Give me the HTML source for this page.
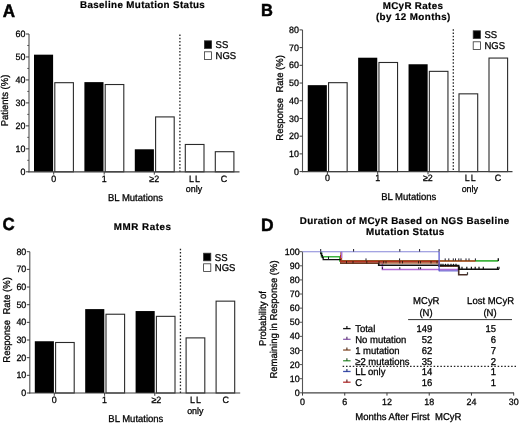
<!DOCTYPE html>
<html><head><meta charset="utf-8"><style>
html,body{margin:0;padding:0;background:#fff;width:520px;height:424px;overflow:hidden}
svg{display:block;filter:blur(0.3px);font-family:"Liberation Sans", sans-serif;will-change:transform;opacity:0.999;text-rendering:geometricPrecision}
text{stroke:#000;stroke-width:0.28px;paint-order:stroke}
text[font-weight=bold]{stroke-width:0.2px}
text.pl{stroke:#000;fill:#000;stroke-width:0.5px}
</style></head><body>
<svg width="520" height="424" viewBox="0 0 520 424">
<rect width="520" height="424" fill="#fff"/>
<text x="2.7" y="16.8" font-size="18.0" text-anchor="start" font-weight="bold" fill="#000" textLength="12.3" lengthAdjust="spacingAndGlyphs" class="pl">A</text>
<text x="80" y="8.3" font-size="9.8" text-anchor="start" font-weight="bold" fill="#000" textLength="124.8" lengthAdjust="spacing">Baseline Mutation Status</text>
<rect x="34.0" y="54.67" width="19.1" height="117.13" fill="#000"/>
<rect x="54.8" y="82.69" width="18.6" height="89.11" fill="#fff" stroke="#2a2a2a" stroke-width="1.1"/>
<rect x="84.4" y="82.12" width="19.1" height="89.68" fill="#000"/>
<rect x="105.2" y="84.53" width="18.6" height="87.27" fill="#fff" stroke="#2a2a2a" stroke-width="1.1"/>
<rect x="134.8" y="149.29" width="19.1" height="22.51" fill="#000"/>
<rect x="155.60000000000002" y="116.91" width="18.6" height="54.89" fill="#fff" stroke="#2a2a2a" stroke-width="1.1"/>
<rect x="185.3" y="144.47" width="18.7" height="27.33" fill="#fff" stroke="#2a2a2a" stroke-width="1.1"/>
<rect x="215.3" y="151.7" width="18.6" height="20.1" fill="#fff" stroke="#2a2a2a" stroke-width="1.1"/>
<line x1="29" y1="34.0" x2="29" y2="172.3" stroke="#505050" stroke-width="1.1"/>
<line x1="28.4" y1="171.8" x2="239.5" y2="171.8" stroke="#404040" stroke-width="1.2"/>
<line x1="26" y1="171.8" x2="29" y2="171.8" stroke="#3a3a3a" stroke-width="1"/>
<text transform="translate(25.5,174.9) scale(0.96154,1)" font-size="9.256" text-anchor="end" font-weight="normal" fill="#000">0</text>
<line x1="26" y1="148.83333333333334" x2="29" y2="148.83333333333334" stroke="#3a3a3a" stroke-width="1"/>
<text transform="translate(25.5,151.93) scale(0.96154,1)" font-size="9.256" text-anchor="end" font-weight="normal" fill="#000">10</text>
<line x1="26" y1="125.86666666666667" x2="29" y2="125.86666666666667" stroke="#3a3a3a" stroke-width="1"/>
<text transform="translate(25.5,128.97) scale(0.96154,1)" font-size="9.256" text-anchor="end" font-weight="normal" fill="#000">20</text>
<line x1="26" y1="102.9" x2="29" y2="102.9" stroke="#3a3a3a" stroke-width="1"/>
<text transform="translate(25.5,106.0) scale(0.96154,1)" font-size="9.256" text-anchor="end" font-weight="normal" fill="#000">30</text>
<line x1="26" y1="79.93333333333334" x2="29" y2="79.93333333333334" stroke="#3a3a3a" stroke-width="1"/>
<text transform="translate(25.5,83.03) scale(0.96154,1)" font-size="9.256" text-anchor="end" font-weight="normal" fill="#000">40</text>
<line x1="26" y1="56.96666666666667" x2="29" y2="56.96666666666667" stroke="#3a3a3a" stroke-width="1"/>
<text transform="translate(25.5,60.07) scale(0.96154,1)" font-size="9.256" text-anchor="end" font-weight="normal" fill="#000">50</text>
<line x1="26" y1="34.0" x2="29" y2="34.0" stroke="#3a3a3a" stroke-width="1"/>
<text transform="translate(25.5,37.1) scale(0.96154,1)" font-size="9.256" text-anchor="end" font-weight="normal" fill="#000">60</text>
<line x1="27.2" y1="160.31666666666666" x2="29" y2="160.31666666666666" stroke="#3a3a3a" stroke-width="0.8"/>
<line x1="27.2" y1="137.35000000000002" x2="29" y2="137.35000000000002" stroke="#3a3a3a" stroke-width="0.8"/>
<line x1="27.2" y1="114.38333333333334" x2="29" y2="114.38333333333334" stroke="#3a3a3a" stroke-width="0.8"/>
<line x1="27.2" y1="91.41666666666667" x2="29" y2="91.41666666666667" stroke="#3a3a3a" stroke-width="0.8"/>
<line x1="27.2" y1="68.45" x2="29" y2="68.45" stroke="#3a3a3a" stroke-width="0.8"/>
<line x1="27.2" y1="45.483333333333334" x2="29" y2="45.483333333333334" stroke="#3a3a3a" stroke-width="0.8"/>
<line x1="179.9" y1="34.45" x2="179.9" y2="171.8" stroke="#222" stroke-width="1.3" stroke-dasharray="1.5,1.82"/>
<rect x="204.4" y="40.8" width="7.2" height="7.6" fill="#000" stroke="#333" stroke-width="0.8"/>
<rect x="204.4" y="51.8" width="7.2" height="7.6" fill="#fff" stroke="#333" stroke-width="0.8"/>
<text transform="translate(215.6,48.099999999999994) scale(0.96154,1)" font-size="9.88" text-anchor="start" font-weight="normal" fill="#000">SS</text>
<text transform="translate(215.6,59.099999999999994) scale(0.96154,1)" font-size="9.88" text-anchor="start" font-weight="normal" fill="#000">NGS</text>
<text transform="translate(53.7,181.6) scale(0.96154,1)" font-size="9.256" text-anchor="middle" font-weight="normal" fill="#000">0</text>
<text transform="translate(104.2,181.6) scale(0.96154,1)" font-size="9.256" text-anchor="middle" font-weight="normal" fill="#000">1</text>
<text transform="translate(154.2,181.6) scale(0.96154,1)" font-size="9.256" text-anchor="middle" font-weight="normal" fill="#000">&#8805;2</text>
<text transform="translate(224,181.6) scale(0.96154,1)" font-size="9.256" text-anchor="middle" font-weight="normal" fill="#000">C</text>
<text transform="translate(194.9,181.6) scale(0.96154,1)" font-size="9.256" text-anchor="middle" font-weight="normal" fill="#000" letter-spacing="1">LL</text>
<text transform="translate(194,192.4) scale(0.96154,1)" font-size="9.256" text-anchor="middle" font-weight="normal" fill="#000">only</text>
<line x1="53.7" y1="171.8" x2="53.7" y2="174.6" stroke="#3a3a3a" stroke-width="1"/>
<line x1="104.2" y1="171.8" x2="104.2" y2="174.6" stroke="#3a3a3a" stroke-width="1"/>
<line x1="154.3" y1="171.8" x2="154.3" y2="174.6" stroke="#3a3a3a" stroke-width="1"/>
<text transform="translate(108,200.8) scale(0.96154,1)" font-size="9.88" text-anchor="start" font-weight="normal" fill="#000">BL Mutations</text>
<text transform="translate(7.8,100.5) rotate(-90) scale(0.96154,1)" x="0" y="0" font-size="9.88" text-anchor="middle" fill="#000">Patients (%)</text>
<text x="261.1" y="16.0" font-size="17.3" text-anchor="start" font-weight="bold" fill="#000" textLength="11.9" lengthAdjust="spacingAndGlyphs" class="pl">B</text>
<text x="412.8" y="8.9" font-size="9.8" text-anchor="middle" font-weight="bold" fill="#000" textLength="60.2" lengthAdjust="spacing">MCyR Rates</text>
<text x="413.1" y="19.7" font-size="9.8" text-anchor="middle" font-weight="bold" fill="#000" textLength="74.4" lengthAdjust="spacing">(by 12 Months)</text>
<rect x="307.75" y="85.16" width="19.1" height="86.44" fill="#000"/>
<rect x="328.55" y="82.68" width="18.6" height="88.92" fill="#fff" stroke="#2a2a2a" stroke-width="1.1"/>
<rect x="358.15" y="57.71" width="19.1" height="113.89" fill="#000"/>
<rect x="378.95" y="62.49" width="18.6" height="109.11" fill="#fff" stroke="#2a2a2a" stroke-width="1.1"/>
<rect x="408.55" y="64.26" width="19.1" height="107.34" fill="#000"/>
<rect x="429.35" y="71.35" width="18.6" height="100.25" fill="#fff" stroke="#2a2a2a" stroke-width="1.1"/>
<rect x="459.0" y="93.84" width="18.7" height="77.76" fill="#fff" stroke="#2a2a2a" stroke-width="1.1"/>
<rect x="489.0" y="58.06" width="18.6" height="113.54" fill="#fff" stroke="#2a2a2a" stroke-width="1.1"/>
<line x1="302.5" y1="29.900000000000006" x2="302.5" y2="172.1" stroke="#505050" stroke-width="1.1"/>
<line x1="301.9" y1="171.6" x2="512.5" y2="171.6" stroke="#404040" stroke-width="1.2"/>
<line x1="299.5" y1="171.6" x2="302.5" y2="171.6" stroke="#3a3a3a" stroke-width="1"/>
<text transform="translate(299.0,174.7) scale(0.96154,1)" font-size="9.256" text-anchor="end" font-weight="normal" fill="#000">0</text>
<line x1="299.5" y1="153.8875" x2="302.5" y2="153.8875" stroke="#3a3a3a" stroke-width="1"/>
<text transform="translate(299.0,156.99) scale(0.96154,1)" font-size="9.256" text-anchor="end" font-weight="normal" fill="#000">10</text>
<line x1="299.5" y1="136.175" x2="302.5" y2="136.175" stroke="#3a3a3a" stroke-width="1"/>
<text transform="translate(299.0,139.28) scale(0.96154,1)" font-size="9.256" text-anchor="end" font-weight="normal" fill="#000">20</text>
<line x1="299.5" y1="118.4625" x2="302.5" y2="118.4625" stroke="#3a3a3a" stroke-width="1"/>
<text transform="translate(299.0,121.56) scale(0.96154,1)" font-size="9.256" text-anchor="end" font-weight="normal" fill="#000">30</text>
<line x1="299.5" y1="100.75" x2="302.5" y2="100.75" stroke="#3a3a3a" stroke-width="1"/>
<text transform="translate(299.0,103.85) scale(0.96154,1)" font-size="9.256" text-anchor="end" font-weight="normal" fill="#000">40</text>
<line x1="299.5" y1="83.03750000000001" x2="302.5" y2="83.03750000000001" stroke="#3a3a3a" stroke-width="1"/>
<text transform="translate(299.0,86.14) scale(0.96154,1)" font-size="9.256" text-anchor="end" font-weight="normal" fill="#000">50</text>
<line x1="299.5" y1="65.325" x2="302.5" y2="65.325" stroke="#3a3a3a" stroke-width="1"/>
<text transform="translate(299.0,68.42) scale(0.96154,1)" font-size="9.256" text-anchor="end" font-weight="normal" fill="#000">60</text>
<line x1="299.5" y1="47.61250000000001" x2="302.5" y2="47.61250000000001" stroke="#3a3a3a" stroke-width="1"/>
<text transform="translate(299.0,50.71) scale(0.96154,1)" font-size="9.256" text-anchor="end" font-weight="normal" fill="#000">70</text>
<line x1="299.5" y1="29.900000000000006" x2="302.5" y2="29.900000000000006" stroke="#3a3a3a" stroke-width="1"/>
<text transform="translate(299.0,33.0) scale(0.96154,1)" font-size="9.256" text-anchor="end" font-weight="normal" fill="#000">80</text>
<line x1="453.3" y1="29.15" x2="453.3" y2="171.6" stroke="#222" stroke-width="1.3" stroke-dasharray="1.5,1.82"/>
<rect x="473.2" y="30.8" width="7.2" height="7.6" fill="#000" stroke="#333" stroke-width="0.8"/>
<rect x="473.2" y="41.8" width="7.2" height="7.6" fill="#fff" stroke="#333" stroke-width="0.8"/>
<text transform="translate(484.4,38.1) scale(0.96154,1)" font-size="9.88" text-anchor="start" font-weight="normal" fill="#000">SS</text>
<text transform="translate(484.4,49.099999999999994) scale(0.96154,1)" font-size="9.88" text-anchor="start" font-weight="normal" fill="#000">NGS</text>
<text transform="translate(327.5,180.8) scale(0.96154,1)" font-size="9.256" text-anchor="middle" font-weight="normal" fill="#000">0</text>
<text transform="translate(377.7,180.8) scale(0.96154,1)" font-size="9.256" text-anchor="middle" font-weight="normal" fill="#000">1</text>
<text transform="translate(427.8,180.8) scale(0.96154,1)" font-size="9.256" text-anchor="middle" font-weight="normal" fill="#000">&#8805;2</text>
<text transform="translate(498,180.8) scale(0.96154,1)" font-size="9.256" text-anchor="middle" font-weight="normal" fill="#000">C</text>
<text transform="translate(470.7,180.8) scale(0.96154,1)" font-size="9.256" text-anchor="middle" font-weight="normal" fill="#000" letter-spacing="1">LL</text>
<text transform="translate(469.8,191.8) scale(0.96154,1)" font-size="9.256" text-anchor="middle" font-weight="normal" fill="#000">only</text>
<line x1="327.4" y1="171.6" x2="327.4" y2="174.4" stroke="#3a3a3a" stroke-width="1"/>
<line x1="377.7" y1="171.6" x2="377.7" y2="174.4" stroke="#3a3a3a" stroke-width="1"/>
<line x1="428.0" y1="171.6" x2="428.0" y2="174.4" stroke="#3a3a3a" stroke-width="1"/>
<text transform="translate(381.2,200.2) scale(0.96154,1)" font-size="9.88" text-anchor="start" font-weight="normal" fill="#000">BL Mutations</text>
<text transform="translate(282.7,97.9) rotate(-90) scale(0.96154,1)" x="0" y="0" font-size="9.88" text-anchor="middle" fill="#000">Response&#160;&#160;Rate (%)</text>
<text x="2.4" y="230.1" font-size="17.5" text-anchor="start" font-weight="bold" fill="#000" textLength="12.2" lengthAdjust="spacingAndGlyphs" class="pl">C</text>
<text x="113.7" y="229.8" font-size="9.8" text-anchor="start" font-weight="bold" fill="#000" textLength="57.3" lengthAdjust="spacing">MMR Rates</text>
<rect x="34.8" y="341.25" width="19.1" height="51.75" fill="#000"/>
<rect x="55.599999999999994" y="342.49" width="18.6" height="50.51" fill="#fff" stroke="#2a2a2a" stroke-width="1.1"/>
<rect x="85.19999999999999" y="309.1" width="19.1" height="83.9" fill="#000"/>
<rect x="105.99999999999999" y="314.23" width="18.6" height="78.77" fill="#fff" stroke="#2a2a2a" stroke-width="1.1"/>
<rect x="135.6" y="311.05" width="19.1" height="81.95" fill="#000"/>
<rect x="156.4" y="316.34" width="18.6" height="76.66" fill="#fff" stroke="#2a2a2a" stroke-width="1.1"/>
<rect x="186.1" y="337.89" width="18.7" height="55.11" fill="#fff" stroke="#2a2a2a" stroke-width="1.1"/>
<rect x="216.1" y="301.15" width="18.6" height="91.84" fill="#fff" stroke="#2a2a2a" stroke-width="1.1"/>
<line x1="29.8" y1="251.7" x2="29.8" y2="393.5" stroke="#505050" stroke-width="1.1"/>
<line x1="29.2" y1="393" x2="240.2" y2="393" stroke="#404040" stroke-width="1.2"/>
<line x1="26.8" y1="393.0" x2="29.8" y2="393.0" stroke="#3a3a3a" stroke-width="1"/>
<text transform="translate(26.3,396.1) scale(0.96154,1)" font-size="9.256" text-anchor="end" font-weight="normal" fill="#000">0</text>
<line x1="26.8" y1="375.3375" x2="29.8" y2="375.3375" stroke="#3a3a3a" stroke-width="1"/>
<text transform="translate(26.3,378.44) scale(0.96154,1)" font-size="9.256" text-anchor="end" font-weight="normal" fill="#000">10</text>
<line x1="26.8" y1="357.675" x2="29.8" y2="357.675" stroke="#3a3a3a" stroke-width="1"/>
<text transform="translate(26.3,360.78) scale(0.96154,1)" font-size="9.256" text-anchor="end" font-weight="normal" fill="#000">20</text>
<line x1="26.8" y1="340.0125" x2="29.8" y2="340.0125" stroke="#3a3a3a" stroke-width="1"/>
<text transform="translate(26.3,343.11) scale(0.96154,1)" font-size="9.256" text-anchor="end" font-weight="normal" fill="#000">30</text>
<line x1="26.8" y1="322.35" x2="29.8" y2="322.35" stroke="#3a3a3a" stroke-width="1"/>
<text transform="translate(26.3,325.45) scale(0.96154,1)" font-size="9.256" text-anchor="end" font-weight="normal" fill="#000">40</text>
<line x1="26.8" y1="304.6875" x2="29.8" y2="304.6875" stroke="#3a3a3a" stroke-width="1"/>
<text transform="translate(26.3,307.79) scale(0.96154,1)" font-size="9.256" text-anchor="end" font-weight="normal" fill="#000">50</text>
<line x1="26.8" y1="287.025" x2="29.8" y2="287.025" stroke="#3a3a3a" stroke-width="1"/>
<text transform="translate(26.3,290.12) scale(0.96154,1)" font-size="9.256" text-anchor="end" font-weight="normal" fill="#000">60</text>
<line x1="26.8" y1="269.3625" x2="29.8" y2="269.3625" stroke="#3a3a3a" stroke-width="1"/>
<text transform="translate(26.3,272.46) scale(0.96154,1)" font-size="9.256" text-anchor="end" font-weight="normal" fill="#000">70</text>
<line x1="26.8" y1="251.7" x2="29.8" y2="251.7" stroke="#3a3a3a" stroke-width="1"/>
<text transform="translate(26.3,254.8) scale(0.96154,1)" font-size="9.256" text-anchor="end" font-weight="normal" fill="#000">80</text>
<line x1="180.45" y1="248.75" x2="180.45" y2="393" stroke="#222" stroke-width="1.3" stroke-dasharray="1.5,1.82"/>
<rect x="203.6" y="253.2" width="7.2" height="7.6" fill="#000" stroke="#333" stroke-width="0.8"/>
<rect x="203.6" y="263.8" width="7.2" height="7.6" fill="#fff" stroke="#333" stroke-width="0.8"/>
<text transform="translate(214.79999999999998,260.5) scale(0.96154,1)" font-size="9.88" text-anchor="start" font-weight="normal" fill="#000">SS</text>
<text transform="translate(214.79999999999998,271.1) scale(0.96154,1)" font-size="9.88" text-anchor="start" font-weight="normal" fill="#000">NGS</text>
<text transform="translate(54.3,402.6) scale(0.96154,1)" font-size="9.256" text-anchor="middle" font-weight="normal" fill="#000">0</text>
<text transform="translate(104.6,402.6) scale(0.96154,1)" font-size="9.256" text-anchor="middle" font-weight="normal" fill="#000">1</text>
<text transform="translate(156.3,402.6) scale(0.96154,1)" font-size="9.256" text-anchor="middle" font-weight="normal" fill="#000">&#8805;2</text>
<text transform="translate(225.6,402.6) scale(0.96154,1)" font-size="9.256" text-anchor="middle" font-weight="normal" fill="#000">C</text>
<text transform="translate(195.9,402.6) scale(0.96154,1)" font-size="9.256" text-anchor="middle" font-weight="normal" fill="#000" letter-spacing="1">LL</text>
<text transform="translate(195.3,413.6) scale(0.96154,1)" font-size="9.256" text-anchor="middle" font-weight="normal" fill="#000">only</text>
<line x1="54.3" y1="393" x2="54.3" y2="395.8" stroke="#3a3a3a" stroke-width="1"/>
<line x1="104.6" y1="393" x2="104.6" y2="395.8" stroke="#3a3a3a" stroke-width="1"/>
<line x1="154.8" y1="393" x2="154.8" y2="395.8" stroke="#3a3a3a" stroke-width="1"/>
<text transform="translate(108.3,422.4) scale(0.96154,1)" font-size="9.88" text-anchor="start" font-weight="normal" fill="#000">BL Mutations</text>
<text transform="translate(9.8,319.9) rotate(-90) scale(0.96154,1)" x="0" y="0" font-size="9.88" text-anchor="middle" fill="#000">Response&#160;&#160;Rate (%)</text>
<text x="261.0" y="230.8" font-size="17.8" text-anchor="start" font-weight="bold" fill="#000" textLength="12.6" lengthAdjust="spacingAndGlyphs" class="pl">D</text>
<text x="404.5" y="223.6" font-size="9.8" text-anchor="middle" font-weight="bold" fill="#000" textLength="209.6" lengthAdjust="spacing">Duration of MCyR Based on NGS Baseline</text>
<text x="405.1" y="234.7" font-size="9.8" text-anchor="middle" font-weight="bold" fill="#000" textLength="78.4" lengthAdjust="spacing">Mutation Status</text>
<line x1="302.5" y1="251.7" x2="302.5" y2="393.3" stroke="#555" stroke-width="1.1"/>
<line x1="301.9" y1="392.8" x2="514" y2="392.8" stroke="#444" stroke-width="1.2"/>
<line x1="299.5" y1="392.8" x2="302.5" y2="392.8" stroke="#555" stroke-width="1"/>
<text transform="translate(299.6,395.9) scale(0.96154,1)" font-size="9.256" text-anchor="end" font-weight="normal" fill="#000">0</text>
<line x1="299.5" y1="378.69" x2="302.5" y2="378.69" stroke="#555" stroke-width="1"/>
<text transform="translate(299.6,381.79) scale(0.96154,1)" font-size="9.256" text-anchor="end" font-weight="normal" fill="#000">10</text>
<line x1="299.5" y1="364.58" x2="302.5" y2="364.58" stroke="#555" stroke-width="1"/>
<text transform="translate(299.6,367.68) scale(0.96154,1)" font-size="9.256" text-anchor="end" font-weight="normal" fill="#000">20</text>
<line x1="299.5" y1="350.47" x2="302.5" y2="350.47" stroke="#555" stroke-width="1"/>
<text transform="translate(299.6,353.57) scale(0.96154,1)" font-size="9.256" text-anchor="end" font-weight="normal" fill="#000">30</text>
<line x1="299.5" y1="336.36" x2="302.5" y2="336.36" stroke="#555" stroke-width="1"/>
<text transform="translate(299.6,339.46) scale(0.96154,1)" font-size="9.256" text-anchor="end" font-weight="normal" fill="#000">40</text>
<line x1="299.5" y1="322.25" x2="302.5" y2="322.25" stroke="#555" stroke-width="1"/>
<text transform="translate(299.6,325.35) scale(0.96154,1)" font-size="9.256" text-anchor="end" font-weight="normal" fill="#000">50</text>
<line x1="299.5" y1="308.14" x2="302.5" y2="308.14" stroke="#555" stroke-width="1"/>
<text transform="translate(299.6,311.24) scale(0.96154,1)" font-size="9.256" text-anchor="end" font-weight="normal" fill="#000">60</text>
<line x1="299.5" y1="294.03" x2="302.5" y2="294.03" stroke="#555" stroke-width="1"/>
<text transform="translate(299.6,297.13) scale(0.96154,1)" font-size="9.256" text-anchor="end" font-weight="normal" fill="#000">70</text>
<line x1="299.5" y1="279.91999999999996" x2="302.5" y2="279.91999999999996" stroke="#555" stroke-width="1"/>
<text transform="translate(299.6,283.02) scale(0.96154,1)" font-size="9.256" text-anchor="end" font-weight="normal" fill="#000">80</text>
<line x1="299.5" y1="265.81" x2="302.5" y2="265.81" stroke="#555" stroke-width="1"/>
<text transform="translate(299.6,268.91) scale(0.96154,1)" font-size="9.256" text-anchor="end" font-weight="normal" fill="#000">90</text>
<line x1="299.5" y1="251.7" x2="302.5" y2="251.7" stroke="#555" stroke-width="1"/>
<text transform="translate(299.6,254.8) scale(0.96154,1)" font-size="9.256" text-anchor="end" font-weight="normal" fill="#000">100</text>
<line x1="302.5" y1="392.8" x2="302.5" y2="395.6" stroke="#3a3a3a" stroke-width="1"/>
<text transform="translate(302.5,404.6) scale(0.96154,1)" font-size="9.256" text-anchor="middle" font-weight="normal" fill="#000">0</text>
<line x1="344.74" y1="392.8" x2="344.74" y2="395.6" stroke="#3a3a3a" stroke-width="1"/>
<text transform="translate(344.74,404.6) scale(0.96154,1)" font-size="9.256" text-anchor="middle" font-weight="normal" fill="#000">6</text>
<line x1="386.98" y1="392.8" x2="386.98" y2="395.6" stroke="#3a3a3a" stroke-width="1"/>
<text transform="translate(386.98,404.6) scale(0.96154,1)" font-size="9.256" text-anchor="middle" font-weight="normal" fill="#000">12</text>
<line x1="429.22" y1="392.8" x2="429.22" y2="395.6" stroke="#3a3a3a" stroke-width="1"/>
<text transform="translate(429.22,404.6) scale(0.96154,1)" font-size="9.256" text-anchor="middle" font-weight="normal" fill="#000">18</text>
<line x1="471.46000000000004" y1="392.8" x2="471.46000000000004" y2="395.6" stroke="#3a3a3a" stroke-width="1"/>
<text transform="translate(471.46000000000004,404.6) scale(0.96154,1)" font-size="9.256" text-anchor="middle" font-weight="normal" fill="#000">24</text>
<line x1="513.7" y1="392.8" x2="513.7" y2="395.6" stroke="#3a3a3a" stroke-width="1"/>
<text transform="translate(513.7,404.6) scale(0.96154,1)" font-size="9.256" text-anchor="middle" font-weight="normal" fill="#000">30</text>
<text transform="translate(355.3,420.1) scale(0.96154,1)" font-size="9.88" text-anchor="start" font-weight="normal" fill="#000">Months After First&#160;&#160;MCyR</text>
<text transform="translate(265.8,318.5) rotate(-90) scale(0.96154,1)" x="0" y="0" font-size="9.88" text-anchor="middle" fill="#000">Probability of</text>
<text transform="translate(276.7,319.5) rotate(-90) scale(0.96154,1)" x="0" y="0" font-size="9.88" text-anchor="middle" fill="#000">Remaining in Response (%)</text>
<path d="M439.1,270.8 L458.5,270.8" fill="none" stroke="#7474d4" stroke-width="1.4"/>
<path d="M341.6,262.6 L382.4,262.6 L382.4,269.6 L458.5,269.6" fill="none" stroke="#b06cd6" stroke-width="1.5"/>
<path d="M340.8,259.7 L340.8,263.3 L378.7,263.3" fill="none" stroke="#111" stroke-width="1.3"/>
<path d="M341.2,251.7 L341.2,262.8 L439,262.8 L439,265.9 L458.7,265.9" fill="none" stroke="#a65530" stroke-width="2.0" stroke-opacity="0.85"/>
<path d="M458.7,265.9 L458.7,274.8 L467.5,274.8" fill="none" stroke="#4a3028" stroke-width="1.6"/>
<path d="M378.7,263.3 L378.7,265.3 L439,265.3 L439,265.6 L458.7,265.6 L458.7,269.2 L499,269.2" fill="none" stroke="#111" stroke-width="1.6"/>
<path d="M321.5,251.7 L321.5,256.7 L339.8,256.7 L339.8,260.9 L498.3,260.9" fill="none" stroke="#3fb43f" stroke-width="1.6"/>
<path d="M340.8,255 L340.8,261.1 L439,261.1" fill="none" stroke="#b3321f" stroke-width="1.6"/>
<path d="M439,261.0 L475.6,261.0" fill="none" stroke="#c84a30" stroke-width="1.5"/>
<path d="M320.7,251.7 L320.7,253.6 L321.6,253.6 L321.6,255.6 L322.4,255.6 L322.4,257.6 L323.2,257.6 L323.2,259.7 L340.8,259.7" fill="none" stroke="#111" stroke-width="1.3"/>
<path d="M341.6,251.7 L341.6,258" fill="none" stroke="#b06cd6" stroke-width="1.3"/>
<path d="M302.5,251.7 L439.1,251.7" fill="none" stroke="#8686d8" stroke-width="1.1"/>
<path d="M439.1,251.7 L439.1,271.2" fill="none" stroke="#5a5ad0" stroke-width="1.3"/>
<line x1="320.7" y1="249.0" x2="320.7" y2="251.6" stroke="#1a1a2a" stroke-width="1"/>
<line x1="353.6" y1="249.0" x2="353.6" y2="251.6" stroke="#1a1a2a" stroke-width="1"/>
<line x1="399.8" y1="249.0" x2="399.8" y2="251.6" stroke="#1a1a2a" stroke-width="1"/>
<line x1="419.6" y1="249.0" x2="419.6" y2="251.6" stroke="#1a1a2a" stroke-width="1"/>
<line x1="439.1" y1="249.0" x2="439.1" y2="251.6" stroke="#1a1a2a" stroke-width="1"/>
<line x1="328.5" y1="256.7" x2="328.5" y2="259.7" stroke="#1a1a2a" stroke-width="1"/>
<line x1="366" y1="258.40000000000003" x2="366" y2="260.6" stroke="#1a1a2a" stroke-width="1"/>
<line x1="399.6" y1="258.40000000000003" x2="399.6" y2="260.6" stroke="#1a1a2a" stroke-width="1"/>
<line x1="445.2" y1="258.40000000000003" x2="445.2" y2="260.6" stroke="#1a1a2a" stroke-width="1"/>
<line x1="448.8" y1="258.40000000000003" x2="448.8" y2="260.6" stroke="#1a1a2a" stroke-width="1"/>
<line x1="453.3" y1="258.40000000000003" x2="453.3" y2="260.6" stroke="#1a1a2a" stroke-width="1"/>
<line x1="455.5" y1="258.40000000000003" x2="455.5" y2="260.6" stroke="#1a1a2a" stroke-width="1"/>
<line x1="458.8" y1="258.40000000000003" x2="458.8" y2="260.6" stroke="#1a1a2a" stroke-width="1"/>
<line x1="461" y1="258.40000000000003" x2="461" y2="260.6" stroke="#1a1a2a" stroke-width="1"/>
<line x1="466" y1="258.40000000000003" x2="466" y2="260.6" stroke="#1a1a2a" stroke-width="1"/>
<line x1="469" y1="258.40000000000003" x2="469" y2="260.6" stroke="#1a1a2a" stroke-width="1"/>
<line x1="475.4" y1="258.40000000000003" x2="475.4" y2="260.6" stroke="#1a1a2a" stroke-width="1"/>
<line x1="346.5" y1="261.0" x2="346.5" y2="263.4" stroke="#3a1a10" stroke-width="1"/>
<line x1="353" y1="261.0" x2="353" y2="263.4" stroke="#3a1a10" stroke-width="1"/>
<line x1="366.8" y1="261.0" x2="366.8" y2="263.4" stroke="#3a1a10" stroke-width="1"/>
<line x1="379" y1="261.0" x2="379" y2="263.4" stroke="#3a1a10" stroke-width="1"/>
<line x1="383.7" y1="261.0" x2="383.7" y2="263.4" stroke="#3a1a10" stroke-width="1"/>
<line x1="386" y1="261.0" x2="386" y2="263.4" stroke="#3a1a10" stroke-width="1"/>
<line x1="399.8" y1="261.0" x2="399.8" y2="263.4" stroke="#3a1a10" stroke-width="1"/>
<line x1="402.5" y1="261.0" x2="402.5" y2="263.4" stroke="#3a1a10" stroke-width="1"/>
<line x1="418.5" y1="261.0" x2="418.5" y2="263.4" stroke="#3a1a10" stroke-width="1"/>
<line x1="420.5" y1="261.0" x2="420.5" y2="263.4" stroke="#3a1a10" stroke-width="1"/>
<line x1="431" y1="261.0" x2="431" y2="263.4" stroke="#3a1a10" stroke-width="1"/>
<line x1="437" y1="261.0" x2="437" y2="263.4" stroke="#3a1a10" stroke-width="1"/>
<line x1="382.4" y1="267.2" x2="382.4" y2="269.2" stroke="#1a1a2a" stroke-width="1"/>
<line x1="399.8" y1="267.2" x2="399.8" y2="269.2" stroke="#1a1a2a" stroke-width="1"/>
<line x1="418.8" y1="267.2" x2="418.8" y2="269.2" stroke="#1a1a2a" stroke-width="1"/>
<line x1="420.6" y1="267.2" x2="420.6" y2="269.2" stroke="#1a1a2a" stroke-width="1"/>
<line x1="441" y1="263.8" x2="441" y2="266.2" stroke="#111" stroke-width="1.2"/>
<line x1="443" y1="263.8" x2="443" y2="266.2" stroke="#111" stroke-width="1.2"/>
<line x1="445.5" y1="263.8" x2="445.5" y2="266.2" stroke="#111" stroke-width="1.2"/>
<line x1="448" y1="263.8" x2="448" y2="266.2" stroke="#111" stroke-width="1.2"/>
<line x1="451" y1="263.8" x2="451" y2="266.2" stroke="#111" stroke-width="1.2"/>
<line x1="453.5" y1="263.8" x2="453.5" y2="266.2" stroke="#111" stroke-width="1.2"/>
<line x1="456" y1="263.8" x2="456" y2="266.2" stroke="#111" stroke-width="1.2"/>
<line x1="459.5" y1="266.8" x2="459.5" y2="269.2" stroke="#111" stroke-width="1.2"/>
<line x1="462" y1="266.8" x2="462" y2="269.2" stroke="#111" stroke-width="1.2"/>
<line x1="466.8" y1="266.8" x2="466.8" y2="269.2" stroke="#111" stroke-width="1.2"/>
<line x1="471.4" y1="266.8" x2="471.4" y2="269.2" stroke="#111" stroke-width="1.2"/>
<line x1="475.2" y1="266.8" x2="475.2" y2="269.2" stroke="#111" stroke-width="1.2"/>
<line x1="479" y1="266.8" x2="479" y2="269.2" stroke="#111" stroke-width="1.2"/>
<line x1="483.3" y1="266.8" x2="483.3" y2="269.2" stroke="#111" stroke-width="1.2"/>
<line x1="497.5" y1="266.8" x2="497.5" y2="269.2" stroke="#111" stroke-width="1.2"/>
<line x1="499" y1="266.8" x2="499" y2="269.2" stroke="#111" stroke-width="1.2"/>
<line x1="467.5" y1="272.2" x2="467.5" y2="274.8" stroke="#333" stroke-width="1.2"/>
<line x1="498.3" y1="258.29999999999995" x2="498.3" y2="260.9" stroke="#111" stroke-width="1.4"/>
<text transform="translate(426.3,303.8) scale(0.96154,1)" font-size="9.88" text-anchor="middle" font-weight="normal" fill="#000">MCyR</text>
<text transform="translate(426.0,315.6) scale(0.96154,1)" font-size="9.88" text-anchor="middle" font-weight="normal" fill="#000">(N)</text>
<text transform="translate(490.6,303.8) scale(0.96154,1)" font-size="9.88" text-anchor="middle" font-weight="normal" fill="#000">Lost MCyR</text>
<text transform="translate(490.0,315.6) scale(0.96154,1)" font-size="9.88" text-anchor="middle" font-weight="normal" fill="#000">(N)</text>
<line x1="408.1" y1="319.6" x2="512" y2="319.6" stroke="#333" stroke-width="1"/>
<line x1="343.1" y1="328.6" x2="350.6" y2="328.6" stroke="#111" stroke-width="1.3"/>
<line x1="346.9" y1="326.0" x2="346.9" y2="328.6" stroke="#000" stroke-width="1.1"/>
<text transform="translate(355.2,332.2) scale(0.96154,1)" font-size="9.88" text-anchor="start" font-weight="normal" fill="#000">Total</text>
<text transform="translate(432.4,332.2) scale(0.96154,1)" font-size="9.88" text-anchor="end" font-weight="normal" fill="#000">149</text>
<text transform="translate(496,332.2) scale(0.96154,1)" font-size="9.88" text-anchor="end" font-weight="normal" fill="#000">15</text>
<line x1="343.1" y1="339.32000000000005" x2="350.6" y2="339.32000000000005" stroke="#8f5fb0" stroke-width="1.3"/>
<line x1="346.9" y1="336.72" x2="346.9" y2="339.32000000000005" stroke="#4a2a60" stroke-width="1.1"/>
<text transform="translate(355.2,343.0) scale(0.96154,1)" font-size="9.88" text-anchor="start" font-weight="normal" fill="#000">No mutation</text>
<text transform="translate(432.4,343.0) scale(0.96154,1)" font-size="9.88" text-anchor="end" font-weight="normal" fill="#000">52</text>
<text transform="translate(496,343.0) scale(0.96154,1)" font-size="9.88" text-anchor="end" font-weight="normal" fill="#000">6</text>
<line x1="343.1" y1="350.04" x2="350.6" y2="350.04" stroke="#8a5230" stroke-width="1.3"/>
<line x1="346.9" y1="347.44" x2="346.9" y2="350.04" stroke="#4a2a18" stroke-width="1.1"/>
<text transform="translate(355.2,353.8) scale(0.96154,1)" font-size="9.88" text-anchor="start" font-weight="normal" fill="#000">1 mutation</text>
<text transform="translate(432.4,353.8) scale(0.96154,1)" font-size="9.88" text-anchor="end" font-weight="normal" fill="#000">62</text>
<text transform="translate(496,353.8) scale(0.96154,1)" font-size="9.88" text-anchor="end" font-weight="normal" fill="#000">7</text>
<line x1="343.1" y1="360.76000000000005" x2="350.6" y2="360.76000000000005" stroke="#3c963c" stroke-width="1.3"/>
<line x1="346.9" y1="358.16" x2="346.9" y2="360.76000000000005" stroke="#1c4a1c" stroke-width="1.1"/>
<text transform="translate(355.2,364.6) scale(0.96154,1)" font-size="9.88" text-anchor="start" font-weight="normal" fill="#000">&#8805;2 mutations</text>
<text transform="translate(432.4,364.6) scale(0.96154,1)" font-size="9.88" text-anchor="end" font-weight="normal" fill="#000">35</text>
<text transform="translate(496,364.6) scale(0.96154,1)" font-size="9.88" text-anchor="end" font-weight="normal" fill="#000">2</text>
<line x1="343.1" y1="371.48" x2="350.6" y2="371.48" stroke="#3c50b0" stroke-width="1.3"/>
<line x1="346.9" y1="368.88" x2="346.9" y2="371.48" stroke="#1c2860" stroke-width="1.1"/>
<text transform="translate(355.2,375.4) scale(0.96154,1)" font-size="9.88" text-anchor="start" font-weight="normal" fill="#000">LL only</text>
<text transform="translate(432.4,375.4) scale(0.96154,1)" font-size="9.88" text-anchor="end" font-weight="normal" fill="#000">14</text>
<text transform="translate(496,375.4) scale(0.96154,1)" font-size="9.88" text-anchor="end" font-weight="normal" fill="#000">1</text>
<line x1="343.1" y1="382.20000000000005" x2="350.6" y2="382.20000000000005" stroke="#b83030" stroke-width="1.3"/>
<line x1="346.9" y1="379.6" x2="346.9" y2="382.20000000000005" stroke="#601818" stroke-width="1.1"/>
<text transform="translate(355.2,386.2) scale(0.96154,1)" font-size="9.88" text-anchor="start" font-weight="normal" fill="#000">C</text>
<text transform="translate(432.4,386.2) scale(0.96154,1)" font-size="9.88" text-anchor="end" font-weight="normal" fill="#000">16</text>
<text transform="translate(496,386.2) scale(0.96154,1)" font-size="9.88" text-anchor="end" font-weight="normal" fill="#000">1</text>
<line x1="342.65" y1="366.4" x2="516" y2="366.4" stroke="#222" stroke-width="1.3" stroke-dasharray="1.5,1.87"/>
</svg>
</body></html>
